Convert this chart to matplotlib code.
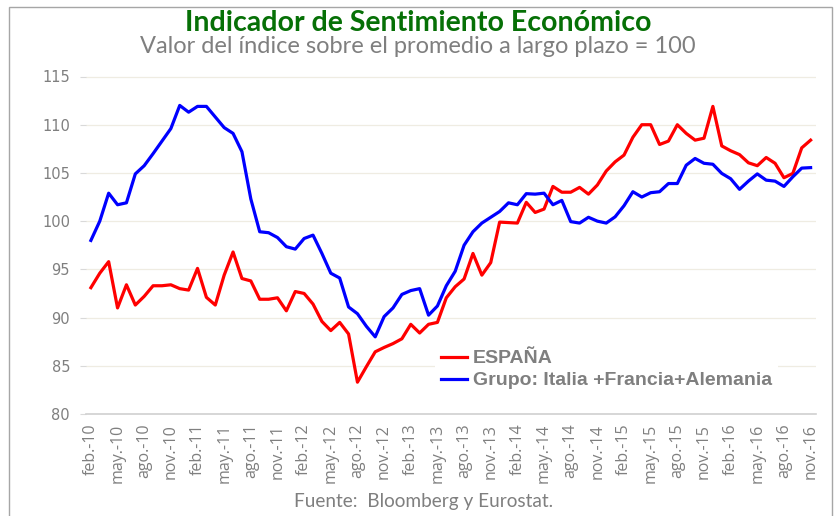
import matplotlib
matplotlib.use("Agg")
import matplotlib.pyplot as plt
from matplotlib.patches import Rectangle

# ---- data ----
tick_labels = ["feb.-10", "may.-10", "ago.-10", "nov.-10", "feb.-11", "may.-11", "ago.-11",
               "nov.-11", "feb.-12", "may.-12", "ago.-12", "nov.-12", "feb.-13", "may.-13",
               "ago.-13", "nov.-13", "feb.-14", "may.-14", "ago.-14", "nov.-14", "feb.-15",
               "may.-15", "ago.-15", "nov.-15", "feb.-16", "may.-16", "ago.-16", "nov.-16"]

espana = [93.1, 94.6, 95.8, 91.0, 93.4, 91.3, 92.2, 93.3, 93.3, 93.4,
          93.0, 92.85, 95.1, 92.1, 91.3, 94.4, 96.8, 94.05, 93.8, 91.9,
          91.9, 92.05, 90.7, 92.7, 92.5, 91.4, 89.6, 88.65, 89.5, 88.3,
          83.3, 84.9, 86.45, 86.9, 87.3, 87.8, 89.3, 88.4, 89.3, 89.5,
          92.05, 93.2, 94.0, 96.65, 94.4, 95.7, 99.9, 99.85, 99.8, 101.95,
          100.9, 101.25, 103.6, 103.0, 103.0, 103.5, 102.8, 103.75, 105.2, 106.15,
          106.85, 108.7, 110.0, 110.0, 107.95, 108.3, 110.0, 109.1, 108.4, 108.6,
          111.9, 107.8, 107.3, 106.9, 106.05, 105.75, 106.6, 106.0, 104.5, 104.95,
          107.6, 108.4]

grupo = [98.0, 100.0, 102.9, 101.7, 101.9, 104.9, 105.75, 107.0, 108.3, 109.6,
         112.0, 111.3, 111.9, 111.9, 110.8, 109.7, 109.1, 107.2, 102.3, 98.9,
         98.8, 98.3, 97.35, 97.1, 98.2, 98.55, 96.65, 94.6, 94.1, 91.1,
         90.4, 89.1, 88.0, 90.1, 91.0, 92.4, 92.8, 93.0, 90.25, 91.2,
         93.3, 94.8, 97.5, 98.9, 99.8, 100.4, 101.0, 101.9, 101.7, 102.85,
         102.8, 102.9, 101.7, 102.15, 99.95, 99.8, 100.4, 100.0, 99.8, 100.45,
         101.6, 103.05, 102.5, 102.95, 103.05, 103.9, 103.9, 105.8, 106.5, 106.0,
         105.9, 104.95, 104.4, 103.3, 104.15, 104.9, 104.25, 104.15, 103.6, 104.6,
         105.5, 105.55]

series_names = ["ESPAÑA", "Grupo: Italia +Francia+Alemania"]
yticks = [80, 85, 90, 95, 100, 105, 110, 115]

title = "Indicador de Sentimiento Económico"
subtitle = "Valor del índice sobre el promedio a largo plazo = 100"
source = "Fuente:  Bloomberg y Eurostat."

# ---- figure ----
W, H = 836, 516
fig = plt.figure(figsize=(W / 100, H / 100), dpi=100)
fig.patch.set_facecolor("white")

# outer frame
fig.patches.append(Rectangle((9 / W, -0.05), 823 / W, 1.05 - 7 / H,
                             transform=fig.transFigure, fill=False,
                             edgecolor="#a6a6a6", linewidth=1.0))

AX_L, AX_R, AX_T, AX_B = 86, 815.5, 76.5, 414
ax = fig.add_axes([AX_L / W, 1 - AX_B / H, (AX_R - AX_L) / W, (AX_B - AX_T) / H])
x = list(range(len(espana)))
gray = "#7f7f7f"

ax.plot(x, espana, color="#ff0000", lw=2.3, label=series_names[0], zorder=3)
ax.plot(x, grupo, color="#0000ff", lw=2.3, label=series_names[1], zorder=3)

ax.set_xlim(-0.55, len(espana) - 0.45)
ax.set_ylim(80, 115)
ax.set_yticks(yticks)
ax.set_yticklabels([str(v) for v in yticks], color=gray, fontsize=10.5,
                   family="DejaVu Sans")
ax.set_xticks(x[::3])
ax.set_xticklabels(tick_labels, rotation=90, color=gray, fontsize=11.5,
                   family="Open Sans")
ax.tick_params(axis="y", length=4, color="#d9d9d9", pad=7.5)
ax.tick_params(axis="x", length=0, pad=7)
ax.grid(axis="y", color="#efece2", lw=0.9, zorder=0)
for s in ["top", "right", "left"]:
    ax.spines[s].set_visible(False)
ax.spines["bottom"].set_color("#d0d0d0")
ax.spines["bottom"].set_linewidth(1.2)

leg = ax.legend(loc="upper left",
                bbox_to_anchor=((435 - AX_L) / (AX_R - AX_L), (AX_B - 344) / (AX_B - AX_T)),
                frameon=True, facecolor="white", edgecolor="none", framealpha=1,
                prop={"family": "Liberation Sans", "weight": "bold", "size": 14},
                handlelength=1.35, handletextpad=0.3, labelspacing=0.22,
                borderpad=0.3, borderaxespad=0)
for t in leg.get_texts():
    t.set_color(gray)
leg.set_zorder(4)

fig.text(0.5, 1 - 23 / H, title, ha="center", va="center", color="#067006",
         fontsize=20.5, fontweight="bold", family="Lato")
fig.text(0.5, 1 - 47 / H, subtitle, ha="center", va="center", color=gray,
         fontsize=17, family="Lato")
fig.text(424 / W, 1 - 502 / H, source, ha="center", va="center", color=gray,
         fontsize=13.7, family="Lato")

fig.savefig("out.png", dpi=100, facecolor="white")
